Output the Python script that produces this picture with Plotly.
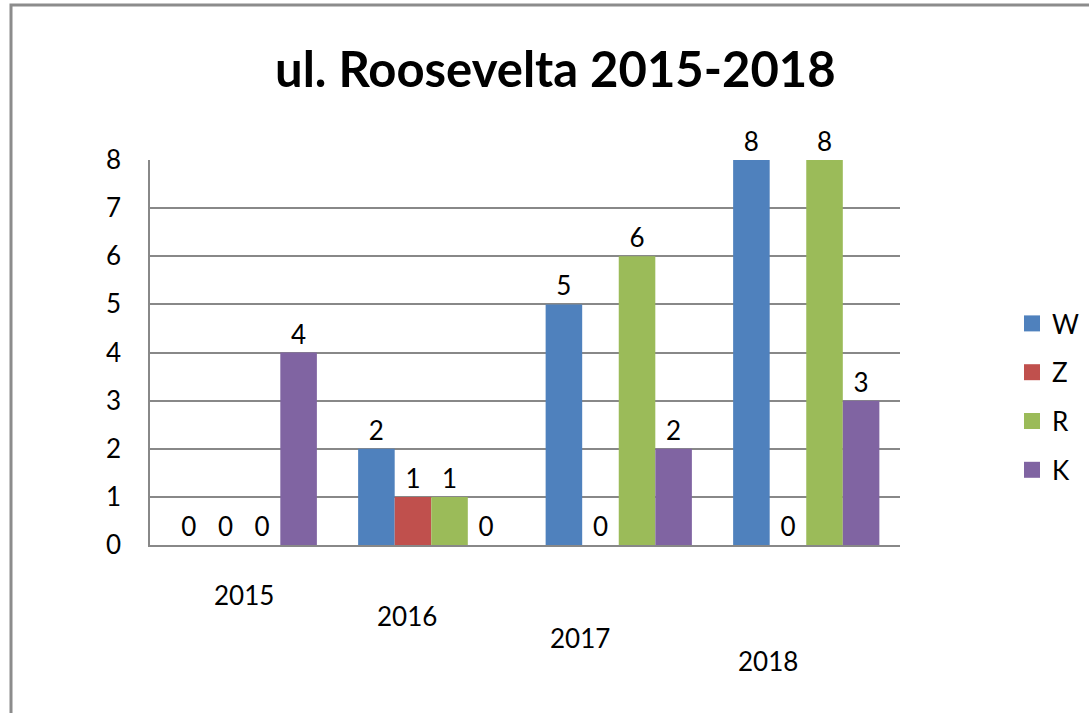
import plotly.graph_objects as go

years = ["2015", "2016", "2017", "2018"]
series_names = ["W", "Z", "R", "K"]
w_values = [0, 2, 5, 8]
z_values = [0, 1, 0, 0]
r_values = [0, 1, 6, 8]
k_values = [4, 0, 2, 3]
y_ticks = [0, 1, 2, 3, 4, 5, 6, 7, 8]

colors = ["#4F81BD", "#C0504D", "#9BBB59", "#8064A2"]
all_values = [w_values, z_values, r_values, k_values]

FONT = "Lato, 'Open Sans', sans-serif"

fig = go.Figure()
for name, vals, col in zip(series_names, all_values, colors):
    fig.add_trace(go.Bar(
        name=name, x=years, y=vals,
        marker=dict(color=col, line=dict(width=0)),
        text=[str(v) for v in vals], textposition="outside",
        textfont=dict(size=26, color="black", family=FONT),
        cliponaxis=False, showlegend=False,
    ))
# legend entries with larger square swatches
for name, col in zip(series_names, colors):
    fig.add_trace(go.Scatter(
        name=name, x=[years[0]], y=[None], mode="markers",
        marker=dict(symbol="square", size=18, color=col),
        legendgroup=name, showlegend=True, hoverinfo="skip",
    ))

W, H = 1089, 713
ml, mr, mt, mb = 150, 189, 160, 168
pw, ph = W - ml - mr, H - mt - mb

def px_x(p):
    return (p - ml) / pw

def px_y(p):
    return (H - mb - p) / ph

# staggered category labels (as in the perspective original)
label_xshift = [0, -24, -39, -38]
label_ypx = [595, 616, 638, 661]
annotations = [
    dict(x=i, y=px_y(ypx), xref="x", yref="paper", text=yr, showarrow=False,
         xshift=xs, xanchor="center", yanchor="middle",
         font=dict(size=26, family=FONT, color="black"))
    for i, (yr, xs, ypx) in enumerate(zip(years, label_xshift, label_ypx))
]

fig.update_layout(
    width=W, height=H,
    margin=dict(l=ml, r=mr, t=mt, b=mb, autoexpand=False),
    paper_bgcolor="white", plot_bgcolor="white",
    font=dict(family=FONT, size=26, color="black"),
    title=dict(text="<b>ul. Roosevelta 2015-2018</b>", x=0.51, xanchor="center",
               y=1 - 70 / H, yanchor="middle",
               font=dict(size=49, family=FONT, color="black")),
    barmode="group", bargap=0.22, bargroupgap=0,
    legend=dict(x=px_x(1012), y=px_y(300), xanchor="left", yanchor="top",
                font=dict(size=26, family=FONT), tracegroupgap=12,
                itemwidth=30),
    xaxis=dict(type="category", categoryorder="array", categoryarray=years,
               showline=True, linecolor="#888888", linewidth=2, automargin=False,
               showticklabels=False, ticks=""),
    yaxis=dict(range=[0, 8], tickvals=y_ticks, showgrid=True, gridcolor="#888888",
               gridwidth=1.5, showline=True, linecolor="#888888", linewidth=1.5,
               automargin=False,
               zeroline=False, tickfont=dict(size=26), ticks="", ticklabelstandoff=22),
    annotations=annotations,
    showlegend=True,
)

fig.add_shape(type="rect", xref="paper", yref="paper",
              x0=px_x(11), x1=px_x(1100), y0=px_y(5), y1=px_y(730),
              line=dict(color="#8C8C8C", width=3), layer="above")

fig.write_html("out.html", config={"displayModeBar": False},
               post_script="document.body.style.margin='0';document.body.style.overflow='hidden';")
